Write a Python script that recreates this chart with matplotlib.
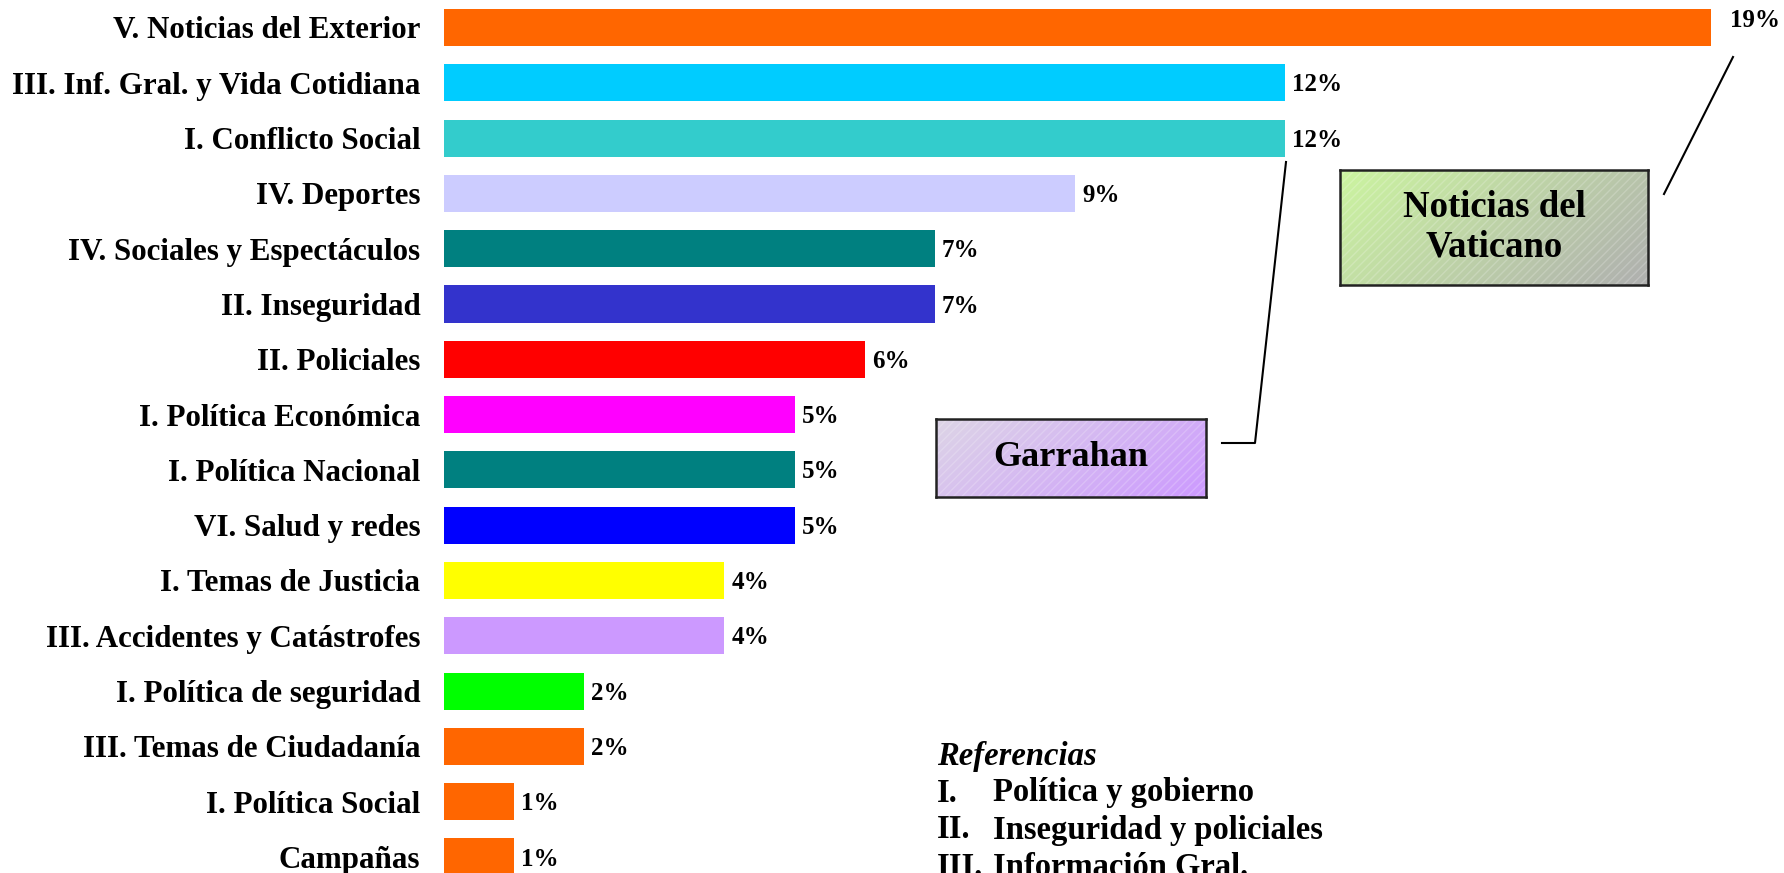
import numpy as np
import matplotlib.pyplot as plt
from matplotlib.lines import Line2D
from matplotlib.patches import Rectangle
from matplotlib.colors import to_rgb

plt.rcParams['font.family'] = ['Liberation Serif', 'DejaVu Serif']

categories = ["V. Noticias del Exterior", "III. Inf. Gral. y Vida Cotidiana", "I. Conflicto Social",
              "IV. Deportes", "IV. Sociales y Espectáculos", "II. Inseguridad", "II. Policiales",
              "I. Política Económica", "I. Política Nacional", "VI. Salud y redes",
              "I. Temas de Justicia", "III. Accidentes y Catástrofes", "I. Política de seguridad",
              "III. Temas de Ciudadanía", "I. Política Social", "Campañas"]
values = [19, 12, 12, 9, 7, 7, 6, 5, 5, 5, 4, 4, 2, 2, 1, 1]
value_labels = ["19%", "12%", "12%", "9%", "7%", "7%", "6%", "5%", "5%", "5%",
                "4%", "4%", "2%", "2%", "1%", "1%"]
colors = ["#FF6600", "#00CCFF", "#33CCCC", "#CCCCFF", "#008080", "#3333CC", "#FF0000",
          "#FF00FF", "#008080", "#0000FF", "#FFFF00", "#CC99FF", "#00FF00", "#FF6600",
          "#FF6600", "#FF6600"]

ref_nums = ["I.", "II.", "III."]
ref_names = ["Política y gobierno", "Inseguridad y policiales", "Información Gral."]

W, H = 1784, 873
XMAX = 18.07

def fx(x):
    return x / W

def fy(y):
    return 1 - y / H

fig = plt.figure(figsize=(W / 100, H / 100), dpi=100)
ax = fig.add_axes([fx(444), 0, fx(1711) - fx(444), 1])

y = np.arange(len(categories))
ax.barh(y, values, height=0.67, color=colors)
ax.set_xlim(0, XMAX)
ax.set_ylim(15.29, -0.497)
ax.set_yticks(y, labels=categories, fontsize=22.3, fontweight='bold')
ax.tick_params(axis='y', length=0, pad=17)
ax.set_xticks([])
for s in ax.spines.values():
    s.set_visible(False)

# value labels (the top bar runs past the axis and is clipped)
for yi, v, lab in zip(y, values, value_labels):
    if v > XMAX:
        ax.annotate(lab, xy=(XMAX, yi), xytext=(13.5, 5), textcoords='offset points',
                    va='center', ha='left', fontsize=18, fontweight='bold', annotation_clip=False)
    else:
        ax.annotate(lab, xy=(v, yi), xytext=(5, -1.5), textcoords='offset points',
                    va='center', ha='left', fontsize=18, fontweight='bold', annotation_clip=False)


def callout(x0, y0, x1, y1, c_start, c_end, text, size):
    bax = fig.add_axes([fx(x0), fy(y1), fx(x1) - fx(x0), fy(y0) - fy(y1)])
    n = 200
    xx, yy = np.meshgrid(np.linspace(0, 1, n), np.linspace(0, 1, n))
    t = (xx * 0.7 + yy * 0.3)[..., None]
    img = (1 - t) * np.array(to_rgb(c_start)) + t * np.array(to_rgb(c_end))
    bax.imshow(img, extent=(0, 1, 0, 1), origin='upper', aspect='auto')
    bax.add_patch(Rectangle((0, 0), 1, 1, transform=bax.transAxes, fill=False,
                            hatch='////', edgecolor=(1, 1, 1, 0.2), lw=0))
    bax.set_xticks([])
    bax.set_yticks([])
    for s in bax.spines.values():
        s.set_color('#222222')
        s.set_linewidth(1.8)
    bax.text(0.5, 0.5, text, ha='center', va='center', fontsize=size,
             fontweight='bold', transform=bax.transAxes, linespacing=1.15)


callout(1340, 170, 1648, 285, "#CCF5A0", "#AFAFAF", "Noticias del\nVaticano", 26.5)
callout(936, 419, 1206, 497, "#DDD5E6", "#CC99FF", "Garrahan", 26)

# leader lines
fig.add_artist(Line2D([fx(1286), fx(1255), fx(1222)], [fy(162), fy(443), fy(443)],
                      color='black', lw=1.5, transform=fig.transFigure))
fig.add_artist(Line2D([fx(1733), fx(1664)], [fy(57), fy(194)],
                      color='black', lw=1.5, transform=fig.transFigure))

# references (last line runs off the bottom edge, as in the original slide)
fig.text(fx(937), fy(765), "Referencias", fontsize=23.5, fontstyle='italic',
         fontweight='bold', va='baseline')
for i, (num, name) in enumerate(zip(ref_nums, ref_names)):
    yb = 801.5 + i * 37
    fig.text(fx(937), fy(yb), num, fontsize=23.5, fontweight='bold', va='baseline')
    fig.text(fx(993), fy(yb), name, fontsize=23.5, fontweight='bold', va='baseline')

fig.savefig("out.png", dpi=100)
